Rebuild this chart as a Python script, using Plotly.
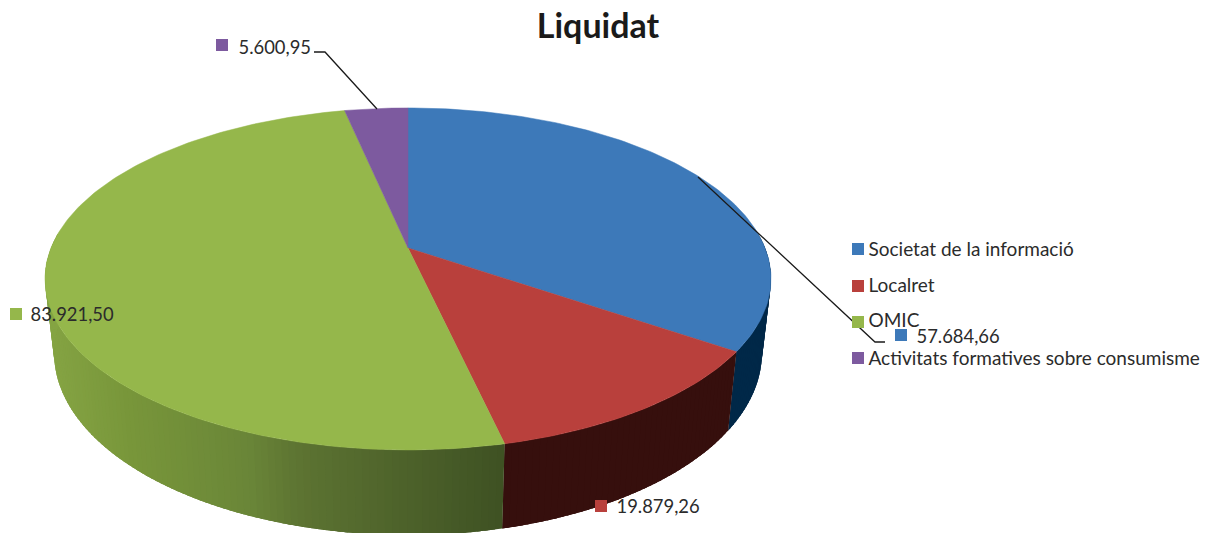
import math
import plotly.graph_objects as go

# ---- data ----
categories = ["Societat de la informació", "Localret", "OMIC", "Activitats formatives sobre consumisme"]
values = [57684.66, 19879.26, 83921.50, 5600.95]
title_text = "Liquidat"

# ---- style ----
top_colors = ["#3d79b9", "#b9403c", "#95b74b", "#7d5a9f"]
# wall colour ramps: (pixel x, rgb)
wall_ramps = [
    [(700, (0, 40, 72)), (775, (0, 40, 72))],
    [(500, (54, 15, 13)), (740, (54, 15, 13))],
    [(40, (134, 165, 68)), (130, (120, 150, 58)), (250, (106, 134, 56)), (300, (93, 116, 50)), (510, (62, 81, 35))],
    [(340, (60, 40, 90)), (410, (60, 40, 90))],
]
text_color = "#2b2b2b"
FONT = "Lato"

# ---- projection of the disc ----
CX, CY = 408.0, 248.0
A, B, P = 357.0, 165.4, 0.181
SX, SY, YB = 0.975, 1.065, 320.0


def top_pt(deg):
    t = math.radians(deg)
    u, v = math.sin(t), math.cos(t)
    d = 1 + P * v
    return A * u / d, -B * v / d


def px_top(deg):
    x, y = top_pt(deg)
    return CX + x, CY + y


def px_bot(deg):
    x, y = top_pt(deg)
    return CX + SX * x, YB + SY * y


def ramp(stops, x):
    if x <= stops[0][0]:
        c = stops[0][1]
    elif x >= stops[-1][0]:
        c = stops[-1][1]
    else:
        for (x0, c0), (x1, c1) in zip(stops, stops[1:]):
            if x0 <= x <= x1:
                f = (x - x0) / (x1 - x0)
                c = tuple(c0[i] + f * (c1[i] - c0[i]) for i in range(3))
                break
    return "rgb(%d,%d,%d)" % tuple(round(k) for k in c)


def euro(v):
    return f"{v:,.2f}".replace(",", "X").replace(".", ",").replace("X", ".")


total = sum(values)
edges = [0.0]
for v in values:
    edges.append(edges[-1] + 360.0 * v / total)

fig = go.Figure()

# side wall strips, visible part only; each strip runs under the next one so no seams show
WALL_FROM, WALL_TO, STEP, OVERLAP = 85.0, 275.0, 1.0, 1.5
for i in range(len(values)):
    a0 = max(edges[i], WALL_FROM)
    a1 = min(edges[i + 1], WALL_TO)
    if a1 <= a0:
        continue
    n = max(1, int(math.ceil((a1 - a0) / STEP)))
    for k in range(n):
        s0 = a0 + (a1 - a0) * k / n
        s1 = min(a1, a0 + (a1 - a0) * (k + 1) / n + OVERLAP)
        m = 4
        ang = [s0 + (s1 - s0) * j / m for j in range(m + 1)]
        tops = [px_top(a) for a in ang]
        bots = [px_bot(a) for a in reversed(ang)]
        poly = tops + bots + [tops[0]]
        col = ramp(wall_ramps[i], px_top(s0)[0])
        fig.add_trace(go.Scatter(
            x=[p[0] for p in poly], y=[p[1] for p in poly],
            mode="lines", fill="toself", fillcolor=col,
            line=dict(color=col, width=0), hoverinfo="skip", showlegend=False,
        ))

# top face sectors
for i, name in enumerate(categories):
    a0, a1 = edges[i], edges[i + 1]
    n = max(8, int((a1 - a0) / 1.0))
    pts = [px_top(a0 + (a1 - a0) * k / n) for k in range(n + 1)]
    xs = [CX] + [p[0] for p in pts] + [CX]
    ys = [CY] + [p[1] for p in pts] + [CY]
    fig.add_trace(go.Scatter(
        x=xs, y=ys, mode="lines", fill="toself", fillcolor=top_colors[i],
        line=dict(color=top_colors[i], width=0.5), name=name,
        text=euro(values[i]), hoverinfo="name+text", showlegend=False,
    ))

# leader lines: purple then blue
leader_x = [[314, 325, 377], [698, 875, 885]]
leader_y = [[52, 52, 109], [177, 342, 342]]
for lx, ly in zip(leader_x, leader_y):
    fig.add_trace(go.Scatter(x=lx, y=ly, mode="lines", line=dict(color="#1a1a1a", width=1.3),
                             hoverinfo="skip", showlegend=False))

# data labels: square marker plus value text
label_mx = [901, 601, 16, 222]
label_my = [335, 506, 314, 45]
label_tx = [916.5, 616.5, 30.5, 238.5]
label_ty = [338, 508, 316, 49]
# legend
legend_mx = [858, 858, 858, 858]
legend_my = [249, 286, 322, 358]
legend_tx = [868.5, 868.5, 868.5, 868.5]
legend_ty = [251, 287, 322, 360]

fig.add_trace(go.Scatter(x=legend_mx, y=legend_my, mode="markers",
                         marker=dict(symbol="square", size=12, color=top_colors, line=dict(width=0)),
                         hoverinfo="skip", showlegend=False))
fig.add_trace(go.Scatter(x=legend_tx, y=legend_ty, mode="text", text=categories, textposition="middle right",
                         textfont=dict(family=FONT, size=19, color=text_color),
                         hoverinfo="skip", showlegend=False))
fig.add_trace(go.Scatter(x=label_mx, y=label_my, mode="markers",
                         marker=dict(symbol="square", size=12, color=top_colors, line=dict(width=0)),
                         hoverinfo="skip", showlegend=False))
fig.add_trace(go.Scatter(x=label_tx, y=label_ty, mode="text", text=[euro(v) for v in values],
                         textposition="middle right",
                         textfont=dict(family=FONT, size=18.4, color=text_color),
                         hoverinfo="skip", showlegend=False))

fig.update_layout(
    width=1212, height=533,
    margin=dict(l=0, r=0, t=0, b=0),
    paper_bgcolor="white", plot_bgcolor="white",
    showlegend=False,
    title=dict(text=title_text, x=598 / 1212, xanchor="center", y=1 - 26 / 533, yanchor="middle",
               font=dict(family=FONT, size=34, color="#1a1a1a", weight="bold")),
    xaxis=dict(range=[0, 1212], visible=False, fixedrange=True),
    yaxis=dict(range=[533, 0], visible=False, fixedrange=True),
)
fig.write_html("out.html", post_script="document.body.style.margin='0';",
               config=dict(displayModeBar=False))
